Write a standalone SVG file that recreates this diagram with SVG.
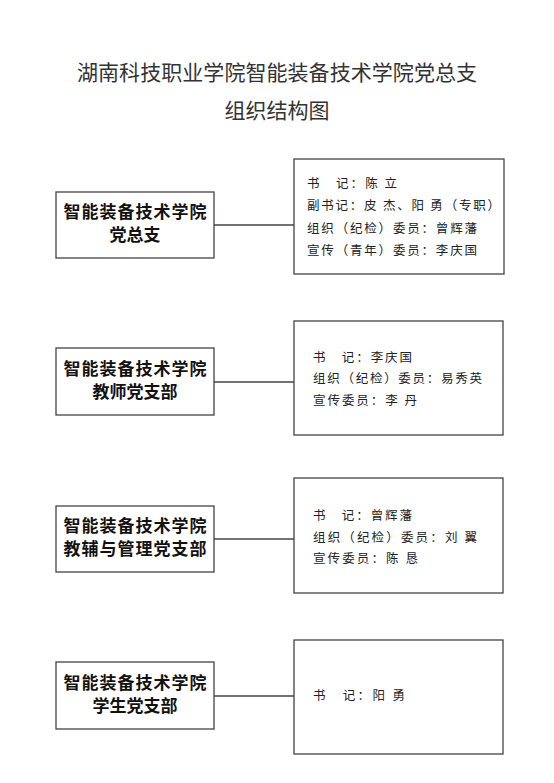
<svg xmlns="http://www.w3.org/2000/svg" width="554" height="783" viewBox="0 0 554 783">
<style>
.title{font-family:"Noto Sans CJK SC","Noto Sans",sans-serif;font-size:21px;fill:#333;text-anchor:middle}
.box{fill:#fff;stroke:#444;stroke-width:1.3}
.org{font-family:"Noto Sans CJK SC",sans-serif;font-size:17px;font-weight:bold;fill:#111;text-anchor:middle}
.mem{font-family:"Noto Sans CJK SC",sans-serif;font-size:12.5px;fill:#222}
.conn line{stroke:#444;stroke-width:1.3}
</style>
<rect width="554" height="783" fill="#fff"/>
<text class="title" x="277" y="80" textLength="400" lengthAdjust="spacing">湖南科技职业学院智能装备技术学院党总支</text>
<text class="title" x="277" y="118">组织结构图</text>
<g class="conn" id="connectors">
<line x1="214" y1="225" x2="294" y2="225"/>
<line x1="214" y1="382" x2="294" y2="382"/>
<line x1="214" y1="539" x2="294" y2="539"/>
<line x1="214" y1="696" x2="294" y2="696"/>
</g>
<g id="org1">
<rect class="box" x="56" y="192" width="158" height="66"/>
<text class="org" x="135" y="218" textLength="143" lengthAdjust="spacing">智能装备技术学院</text>
<text class="org" x="135" y="241">党总支</text>
</g>
<g id="mem1">
<rect class="box" x="294" y="159" width="210" height="115"/>
<text class="mem" x="307" y="188" textLength="90" lengthAdjust="spacing">书　记：陈 立</text>
<text class="mem" x="307" y="210" textLength="193" lengthAdjust="spacing">副书记：皮 杰、阳 勇（专职）</text>
<text class="mem" x="307" y="233" textLength="170" lengthAdjust="spacing">组织（纪检）委员：曾辉藩</text>
<text class="mem" x="307" y="255" textLength="170" lengthAdjust="spacing">宣传（青年）委员：李庆国</text>
</g>
<g id="org2">
<rect class="box" x="56" y="348" width="158" height="67"/>
<text class="org" x="135" y="375" textLength="143" lengthAdjust="spacing">智能装备技术学院</text>
<text class="org" x="135" y="398">教师党支部</text>
</g>
<g id="mem2">
<rect class="box" x="294" y="321" width="209" height="114"/>
<text class="mem" x="313" y="362" textLength="99" lengthAdjust="spacing">书　记：李庆国</text>
<text class="mem" x="313" y="383" textLength="169" lengthAdjust="spacing">组织（纪检）委员：易秀英</text>
<text class="mem" x="313" y="405" textLength="104" lengthAdjust="spacing">宣传委员：李 丹</text>
</g>
<g id="org3">
<rect class="box" x="56" y="506" width="158" height="66"/>
<text class="org" x="135" y="532" textLength="143" lengthAdjust="spacing">智能装备技术学院</text>
<text class="org" x="135" y="555" textLength="143" lengthAdjust="spacing">教辅与管理党支部</text>
</g>
<g id="mem3">
<rect class="box" x="294" y="478" width="209" height="115"/>
<text class="mem" x="313" y="520" textLength="99" lengthAdjust="spacing">书　记：曾辉藩</text>
<text class="mem" x="313" y="542" textLength="164" lengthAdjust="spacing">组织（纪检）委员：刘 翼</text>
<text class="mem" x="313" y="563" textLength="105" lengthAdjust="spacing">宣传委员：陈 恳</text>
</g>
<g id="org4">
<rect class="box" x="56" y="662" width="158" height="67"/>
<text class="org" x="135" y="689" textLength="143" lengthAdjust="spacing">智能装备技术学院</text>
<text class="org" x="135" y="712">学生党支部</text>
</g>
<g id="mem4">
<rect class="box" x="294" y="640" width="209" height="114"/>
<text class="mem" x="313" y="700" textLength="92" lengthAdjust="spacing">书　记：阳 勇</text>
</g>
</svg>
